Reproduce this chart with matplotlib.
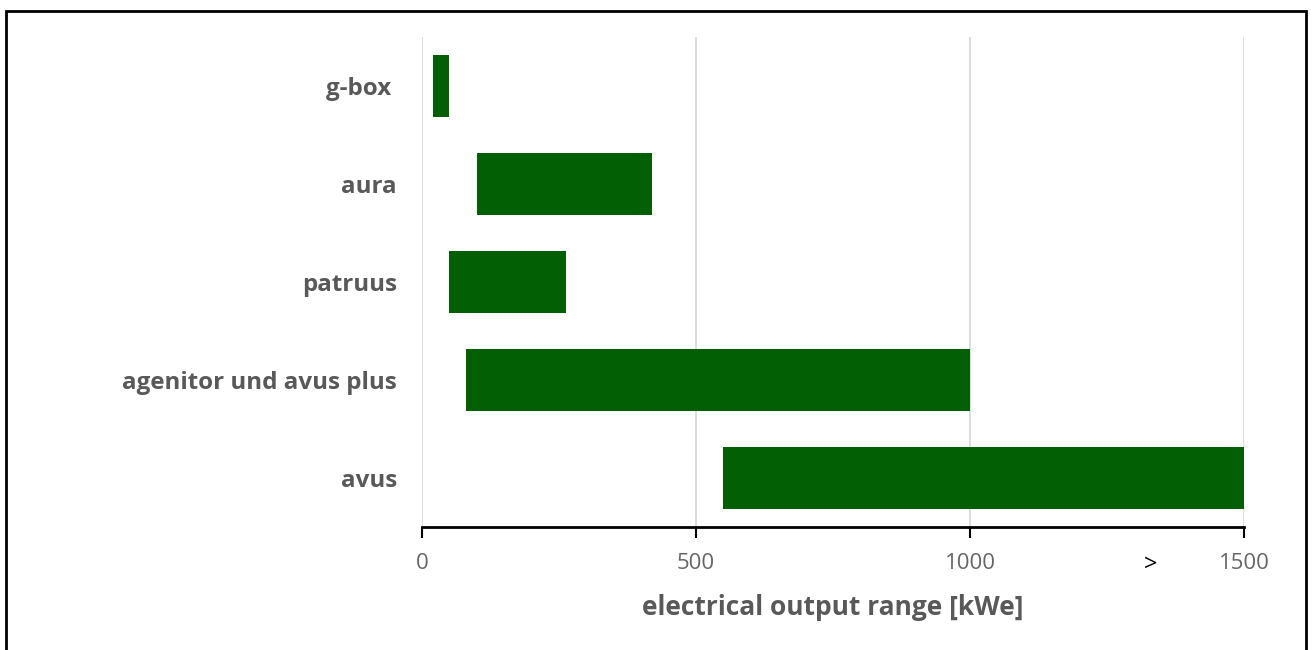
import matplotlib
matplotlib.use("Agg")
import matplotlib.pyplot as plt
from matplotlib.patches import Rectangle

categories = ["g-box ", "aura", "patruus", "agenitor und avus plus", "avus"]
range_start = [20, 100, 50, 80, 550]
range_end = [50, 420, 262, 1000, 1500]
x_ticks = [0, 500, 1000, 1500]
x_label = "electrical output range [kWe]"

plt.rcParams['font.family'] = ['Open Sans', 'DejaVu Sans']

fig = plt.figure(figsize=(13.12, 6.5), dpi=100)
ax = fig.add_axes([422/1312, 1-527/650, (1244-422)/1312, (527-37)/650])

ypos = list(range(len(categories)))
widths = [e - s for s, e in zip(range_start, range_end)]
ax.barh(ypos, widths, left=range_start, height=0.64, color="#035f03", zorder=3)

ax.set_ylim(len(categories) - 0.5, -0.5)
ax.set_xlim(0, 1500)
ax.set_xticks(x_ticks)
ax.set_xticklabels([str(t) for t in x_ticks], fontsize=16, color="#666666")
ax.set_yticks(ypos)
ax.set_yticklabels(categories, fontsize=17.4, fontweight="bold", color="#595959")
ax.tick_params(axis="y", length=0, pad=18)
ax.tick_params(axis="x", length=8, width=1.5, color="black", pad=11)
ax.grid(axis="x", color="#d9d9d9", linewidth=1.3, zorder=0)
for s in ["top", "right", "left"]:
    ax.spines[s].set_visible(False)
ax.spines["bottom"].set_linewidth(2)
ax.spines["bottom"].set_color("black")
ax.set_xlabel(x_label, fontsize=19, fontweight="bold", color="#595959", labelpad=14)

ax.text(1330, -0.078, ">", transform=ax.get_xaxis_transform(), fontsize=17,
        color="black", ha="center", va="center")

fig.patches.append(Rectangle((6/1312, -0.05), 1300/1312, 1 - 11/650 + 0.05,
                             transform=fig.transFigure, fill=False,
                             edgecolor="black", linewidth=2))

fig.savefig("out.png", dpi=100)
